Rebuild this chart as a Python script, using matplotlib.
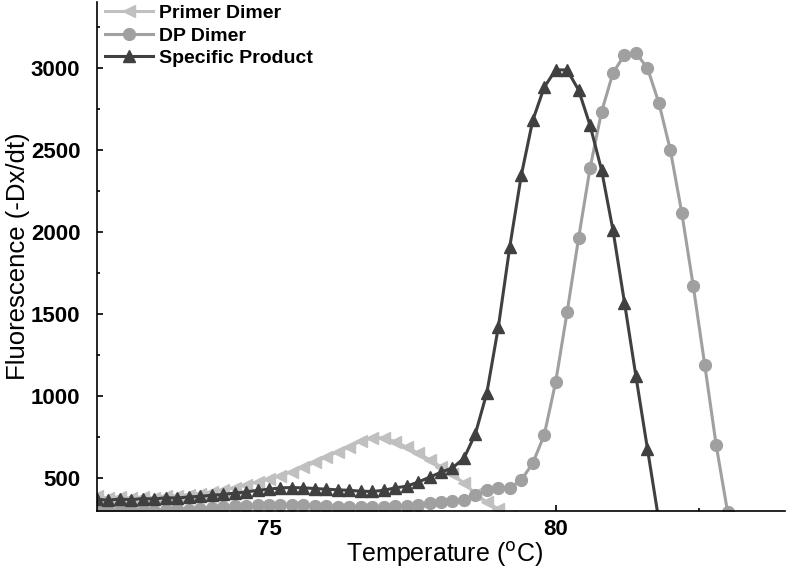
import matplotlib
matplotlib.use("Agg")
import matplotlib.pyplot as plt
from matplotlib.ticker import MultipleLocator

plt.rcParams['font.family'] = ['Liberation Sans', 'DejaVu Sans']

# temperature grid (deg C), 0.2 steps
temp = [72.0, 72.2, 72.4, 72.6, 72.8, 73.0, 73.2, 73.4, 73.6, 73.8,
        74.0, 74.2, 74.4, 74.6, 74.8, 75.0, 75.2, 75.4, 75.6, 75.8,
        76.0, 76.2, 76.4, 76.6, 76.8, 77.0, 77.2, 77.4, 77.6, 77.8,
        78.0, 78.2, 78.4, 78.6, 78.8, 79.0, 79.2, 79.4, 79.6, 79.8,
        80.0, 80.2, 80.4, 80.6, 80.8, 81.0, 81.2, 81.4, 81.6, 81.8,
        82.0, 82.2, 82.4, 82.6, 82.8, 83.0]

primer_dimer = [390, 378, 386, 376, 384, 380, 388, 392, 398, 405,
                415, 428, 442, 458, 476, 495, 515, 538, 565, 595,
                628, 660, 690, 725, 745, 745, 722, 688, 652, 612,
                568, 525, 468, 405, 352, 312, 270]

dp_dimer = [305, 300, 308, 302, 306, 300, 305, 310, 305, 312,
            318, 322, 328, 330, 334, 336, 338, 336, 334, 330,
            328, 326, 324, 322, 322, 325, 328, 332, 338, 345,
            352, 360, 368, 396, 425, 438, 440, 488, 590, 762,
            1085, 1512, 1963, 2390, 2732, 2970, 3079, 3091, 3000, 2787,
            2500, 2116, 1670, 1190, 700, 290]

specific_product = [370, 365, 372, 368, 375, 372, 380, 378, 385, 388,
                    395, 400, 408, 415, 425, 432, 440, 442, 440, 436,
                    432, 428, 425, 420, 418, 425, 440, 450, 475, 505,
                    535, 562, 620, 770, 1020, 1420, 1910, 2345, 2680, 2882,
                    2988, 2988, 2865, 2650, 2378, 2010, 1570, 1120, 680, 240]

fig = plt.figure(figsize=(7.88, 5.71), dpi=100)
ax = fig.add_axes([97 / 788, 60 / 571, 688 / 788, 509 / 571])

ax.plot(temp[:len(primer_dimer)], primer_dimer, color='#c0c0c0', lw=2.2,
        marker='<', ms=9, label='Primer Dimer')
ax.plot(temp[:len(dp_dimer)], dp_dimer, color='#a0a0a0', lw=2.2,
        marker='o', ms=8.5, label='DP Dimer')
ax.plot(temp[:len(specific_product)], specific_product, color='#404040', lw=2.2,
        marker='^', ms=9, label='Specific Product')

ax.set_xlim(72, 84)
ax.set_ylim(299, 3402)
ax.xaxis.set_major_locator(MultipleLocator(5))
ax.xaxis.set_minor_locator(MultipleLocator(2.5))
ax.yaxis.set_major_locator(MultipleLocator(500))
ax.yaxis.set_minor_locator(MultipleLocator(250))
ax.set_yticks([500, 1000, 1500, 2000, 2500, 3000])

for s in ['top', 'right']:
    ax.spines[s].set_visible(False)
for s in ['left', 'bottom']:
    ax.spines[s].set_linewidth(1.2)

ax.tick_params(which='major', direction='in', length=4, width=1.2)
ax.tick_params(which='minor', direction='in', length=2.5, width=1.2)
ax.tick_params(axis='y', pad=12)
ax.tick_params(axis='x', pad=6)
for lbl in ax.get_xticklabels() + ax.get_yticklabels():
    lbl.set_fontsize(16)
    lbl.set_fontweight('bold')

ax.set_xlabel('Temperature ($^{\\rm o}$C)', fontsize=18)
ax.set_ylabel('Fluorescence (-Dx/dt)', fontsize=18.5)
ax.xaxis.set_label_coords(0.505, -0.056)
ax.yaxis.set_label_coords(-0.098, 0.5)

leg = ax.legend(loc='upper left', bbox_to_anchor=(0.0, 1.01), frameon=False,
                prop={'size': 14, 'weight': 'bold'}, handlelength=2.5,
                handletextpad=0.3, labelspacing=0.25, borderaxespad=0.2,
                borderpad=0.2)

fig.savefig('out.png', dpi=100)
